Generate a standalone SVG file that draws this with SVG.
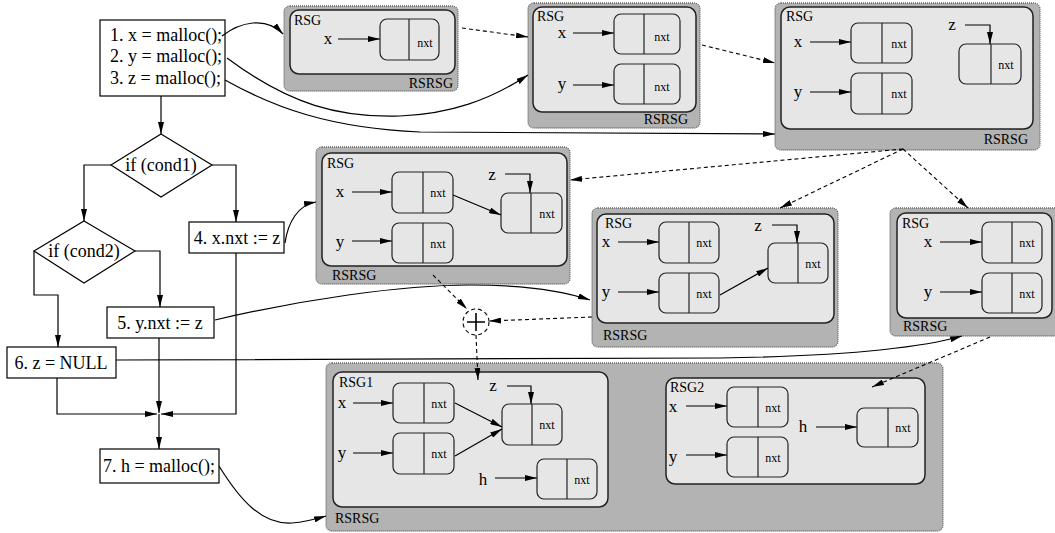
<svg xmlns="http://www.w3.org/2000/svg" width="1055" height="533" viewBox="0 0 1055 533">
<defs>
<marker id="ah" viewBox="0 0 12 6" refX="12" refY="3" markerWidth="12" markerHeight="6" markerUnits="userSpaceOnUse" orient="auto">
<path d="M0,0 L12,3 L0,6 Z" fill="#000"/>
</marker>
<style>
text{font-family:"Liberation Serif","Times New Roman",serif;fill:#000}
.ft{font-size:18px}
.lab{font-size:17px}
.rsg{font-size:14px}
.nxt{font-size:12px}
.box{fill:#fff;stroke:#000;stroke-width:1.2}
.outer{fill:#b3b3b3;stroke:#666;stroke-width:1.3;stroke-dasharray:1 1}
.inner{fill:#e6e6e6;stroke:#222;stroke-width:1.5}
.node{fill:#e6e6e6;stroke:#222;stroke-width:1.2}
.div{stroke:#222;stroke-width:1.2}
.ln{fill:none;stroke:#000;stroke-width:1.2}
.ar{fill:none;stroke:#000;stroke-width:1.2;marker-end:url(#ah)}
.da{fill:none;stroke:#000;stroke-width:1.1;stroke-dasharray:4 3;marker-end:url(#ah)}
</style>
</defs>

<!-- Flowchart nodes -->
<g id="s123">
<rect class="box" x="100" y="20" width="125" height="76"/>
<text class="ft" x="110" y="41">1. x = malloc();</text>
<text class="ft" x="110" y="62">2. y = malloc();</text>
<text class="ft" x="110" y="84">3. z = malloc();</text>
</g>
<g id="cond1">
<polygon class="box" points="161,134 212,165 161,197 111,165"/>
<text class="ft" x="161" y="171" text-anchor="middle">if (cond1)</text>
</g>
<g id="cond2">
<polygon class="box" points="84,221 135,251 84,283 34,251"/>
<text class="ft" x="84" y="257" text-anchor="middle">if (cond2)</text>
</g>
<g id="s4">
<rect class="box" x="189" y="222" width="95" height="31"/>
<text class="ft" x="237" y="244" text-anchor="middle">4. x.nxt := z</text>
</g>
<g id="s5">
<rect class="box" x="107" y="307" width="107" height="31"/>
<text class="ft" x="160" y="329" text-anchor="middle">5. y.nxt := z</text>
</g>
<g id="s6">
<rect class="box" x="7" y="347" width="109" height="31"/>
<text class="ft" x="61" y="369" text-anchor="middle">6. z = NULL</text>
</g>
<g id="s7">
<rect class="box" x="100" y="449" width="119" height="34"/>
<text class="ft" x="159" y="472" text-anchor="middle">7. h = malloc();</text>
</g>

<!-- RSRSG A -->
<g id="rsrsgA">
<rect class="outer" x="284" y="6" width="174" height="85" rx="6"/>
<rect class="inner" x="290" y="10" width="165" height="64" rx="9"/>
<text class="rsg" x="294" y="25">RSG</text>
<text class="rsg" x="453" y="88" text-anchor="end">RSRSG</text>
<text class="lab" x="328" y="44" text-anchor="middle">x</text>
<path class="ar" d="M338,39 H380"/>
<rect class="node" x="380" y="19" width="59" height="41" rx="7"/>
<line class="div" x1="409" y1="19" x2="409" y2="60"/>
<text class="nxt" x="425" y="47" text-anchor="middle">nxt</text>
</g>

<!-- RSRSG B -->
<g id="rsrsgB">
<rect class="outer" x="528" y="3" width="172" height="125" rx="6"/>
<rect class="inner" x="533" y="7" width="163" height="105" rx="9"/>
<text class="rsg" x="537" y="21">RSG</text>
<text class="rsg" x="688" y="124" text-anchor="end">RSRSG</text>
<text class="lab" x="562" y="38" text-anchor="middle">x</text>
<path class="ar" d="M573,33 H614"/>
<rect class="node" x="614" y="14" width="66" height="40" rx="7"/>
<line class="div" x1="644" y1="14" x2="644" y2="54"/>
<text class="nxt" x="662" y="41" text-anchor="middle">nxt</text>
<text class="lab" x="562" y="89" text-anchor="middle">y</text>
<path class="ar" d="M573,85 H614"/>
<rect class="node" x="614" y="64" width="66" height="40" rx="7"/>
<line class="div" x1="644" y1="64" x2="644" y2="104"/>
<text class="nxt" x="662" y="91" text-anchor="middle">nxt</text>
</g>

<!-- RSRSG C -->
<g id="rsrsgC">
<rect class="outer" x="775" y="3" width="265" height="147" rx="6"/>
<rect class="inner" x="781" y="7" width="252" height="122" rx="9"/>
<text class="rsg" x="786" y="21">RSG</text>
<text class="rsg" x="1028" y="144" text-anchor="end">RSRSG</text>
<text class="lab" x="798" y="47" text-anchor="middle">x</text>
<path class="ar" d="M810,42 H851"/>
<rect class="node" x="851" y="23" width="61" height="40" rx="7"/>
<line class="div" x1="882" y1="23" x2="882" y2="63"/>
<text class="nxt" x="899" y="48" text-anchor="middle">nxt</text>
<text class="lab" x="798" y="97" text-anchor="middle">y</text>
<path class="ar" d="M810,92 H851"/>
<rect class="node" x="851" y="73" width="61" height="41" rx="7"/>
<line class="div" x1="882" y1="73" x2="882" y2="114"/>
<text class="nxt" x="899" y="98" text-anchor="middle">nxt</text>
<text class="lab" x="952" y="30" text-anchor="middle">z</text>
<rect class="node" x="959" y="44" width="62" height="40" rx="7"/>
<line class="div" x1="991" y1="44" x2="991" y2="84"/>
<text class="nxt" x="1006" y="69" text-anchor="middle">nxt</text>
<path class="ar" d="M965,25 H990 V44"/>
</g>

<!-- RSRSG D -->
<g id="rsrsgD">
<rect class="outer" x="316" y="147" width="254" height="137" rx="6"/>
<rect class="inner" x="322" y="153" width="245" height="113" rx="9"/>
<text class="rsg" x="327" y="168">RSG</text>
<text class="rsg" x="332" y="280">RSRSG</text>
<text class="lab" x="340" y="197" text-anchor="middle">x</text>
<path class="ar" d="M352,192 H392"/>
<rect class="node" x="392" y="172" width="61" height="41" rx="7"/>
<line class="div" x1="423" y1="172" x2="423" y2="213"/>
<text class="nxt" x="438" y="197" text-anchor="middle">nxt</text>
<text class="lab" x="340" y="247" text-anchor="middle">y</text>
<path class="ar" d="M352,241 H392"/>
<rect class="node" x="392" y="223" width="61" height="40" rx="7"/>
<line class="div" x1="423" y1="223" x2="423" y2="263"/>
<text class="nxt" x="438" y="248" text-anchor="middle">nxt</text>
<text class="lab" x="492" y="180" text-anchor="middle">z</text>
<rect class="node" x="501" y="193" width="61" height="40" rx="7"/>
<line class="div" x1="531" y1="193" x2="531" y2="233"/>
<text class="nxt" x="547" y="218" text-anchor="middle">nxt</text>
<path class="ar" d="M505,174 H530 V193"/>
<path class="ar" d="M453,195 L501,215"/>
</g>

<!-- RSRSG E -->
<g id="rsrsgE">
<rect class="outer" x="592" y="208" width="246" height="139" rx="6"/>
<rect class="inner" x="597" y="214" width="237" height="109" rx="9"/>
<text class="rsg" x="605" y="228">RSG</text>
<text class="rsg" x="603" y="340">RSRSG</text>
<text class="lab" x="606" y="247" text-anchor="middle">x</text>
<path class="ar" d="M618,242 H659"/>
<rect class="node" x="659" y="222" width="60" height="41" rx="7"/>
<line class="div" x1="689" y1="222" x2="689" y2="263"/>
<text class="nxt" x="704" y="247" text-anchor="middle">nxt</text>
<text class="lab" x="606" y="297" text-anchor="middle">y</text>
<path class="ar" d="M618,292 H659"/>
<rect class="node" x="659" y="273" width="60" height="40" rx="7"/>
<line class="div" x1="689" y1="273" x2="689" y2="313"/>
<text class="nxt" x="704" y="298" text-anchor="middle">nxt</text>
<text class="lab" x="758" y="231" text-anchor="middle">z</text>
<rect class="node" x="768" y="243" width="60" height="40" rx="7"/>
<line class="div" x1="798" y1="243" x2="798" y2="283"/>
<text class="nxt" x="813" y="268" text-anchor="middle">nxt</text>
<path class="ar" d="M772,225 H797 V243"/>
<path class="ar" d="M720,295 L768,268"/>
</g>

<!-- RSRSG F -->
<g id="rsrsgF">
<rect class="outer" x="890" y="208" width="172" height="128" rx="6"/>
<rect class="inner" x="897" y="213" width="155" height="105" rx="9"/>
<text class="rsg" x="902" y="228">RSG</text>
<text class="rsg" x="903" y="331">RSRSG</text>
<text class="lab" x="928" y="247" text-anchor="middle">x</text>
<path class="ar" d="M940,242 H982"/>
<rect class="node" x="982" y="222" width="60" height="41" rx="7"/>
<line class="div" x1="1012" y1="222" x2="1012" y2="263"/>
<text class="nxt" x="1027" y="247" text-anchor="middle">nxt</text>
<text class="lab" x="928" y="297" text-anchor="middle">y</text>
<path class="ar" d="M940,292 H982"/>
<rect class="node" x="982" y="273" width="60" height="40" rx="7"/>
<line class="div" x1="1012" y1="273" x2="1012" y2="313"/>
<text class="nxt" x="1027" y="298" text-anchor="middle">nxt</text>
</g>

<!-- RSRSG G -->
<g id="rsrsgG">
<rect class="outer" x="326" y="363" width="617" height="168" rx="6"/>
<rect class="inner" x="333" y="372" width="275" height="135" rx="9"/>
<text class="rsg" x="339" y="387">RSG1</text>
<text class="rsg" x="335" y="523">RSRSG</text>
<text class="lab" x="342" y="408" text-anchor="middle">x</text>
<path class="ar" d="M353,403 H393"/>
<rect class="node" x="393" y="383" width="61" height="40" rx="7"/>
<line class="div" x1="424" y1="383" x2="424" y2="423"/>
<text class="nxt" x="439" y="408" text-anchor="middle">nxt</text>
<text class="lab" x="342" y="458" text-anchor="middle">y</text>
<path class="ar" d="M353,453 H393"/>
<rect class="node" x="393" y="433" width="61" height="41" rx="7"/>
<line class="div" x1="424" y1="433" x2="424" y2="474"/>
<text class="nxt" x="439" y="458" text-anchor="middle">nxt</text>
<text class="lab" x="493" y="391" text-anchor="middle">z</text>
<rect class="node" x="502" y="404" width="60" height="41" rx="7"/>
<line class="div" x1="532" y1="404" x2="532" y2="445"/>
<text class="nxt" x="547" y="429" text-anchor="middle">nxt</text>
<path class="ar" d="M507,386 H531 V404"/>
<path class="ar" d="M455,403 L502,427"/>
<path class="ar" d="M455,456 L502,429"/>
<text class="lab" x="483" y="485" text-anchor="middle">h</text>
<path class="ar" d="M495,478 H537"/>
<rect class="node" x="537" y="459" width="60" height="40" rx="7"/>
<line class="div" x1="567" y1="459" x2="567" y2="499"/>
<text class="nxt" x="582" y="484" text-anchor="middle">nxt</text>

<rect class="inner" x="666" y="378" width="259" height="106" rx="9"/>
<text class="rsg" x="670" y="392">RSG2</text>
<text class="lab" x="673" y="412" text-anchor="middle">x</text>
<path class="ar" d="M686,406 H727"/>
<rect class="node" x="727" y="387" width="61" height="40" rx="7"/>
<line class="div" x1="758" y1="387" x2="758" y2="427"/>
<text class="nxt" x="773" y="412" text-anchor="middle">nxt</text>
<text class="lab" x="673" y="462" text-anchor="middle">y</text>
<path class="ar" d="M686,455 H727"/>
<rect class="node" x="727" y="437" width="61" height="40" rx="7"/>
<line class="div" x1="758" y1="437" x2="758" y2="477"/>
<text class="nxt" x="773" y="462" text-anchor="middle">nxt</text>
<text class="lab" x="803" y="432" text-anchor="middle">h</text>
<path class="ar" d="M816,427 H857"/>
<rect class="node" x="857" y="408" width="61" height="39" rx="7"/>
<line class="div" x1="888" y1="408" x2="888" y2="447"/>
<text class="nxt" x="903" y="432" text-anchor="middle">nxt</text>
</g>

<!-- Join (+) -->
<g id="join">
<circle cx="476" cy="322" r="13" fill="none" stroke="#000" stroke-width="1.1" stroke-dasharray="4 3"/>
<path d="M467,322 H485 M476,313 V331" stroke="#000" stroke-width="1.6" fill="none"/>
</g>

<!-- Connectors -->
<g id="connectors">
<path class="ar" d="M161,96 V134"/>
<path class="ar" d="M111,165 H84 V221"/>
<path class="ar" d="M212,165 H236 V222"/>
<path class="ar" d="M135,251 H160 V307"/>
<path class="ar" d="M34,251 V295 H58 V347"/>
<path class="ar" d="M159,338 V413"/>
<path class="ar" d="M57,378 V414 H157"/>
<path class="ar" d="M236,253 V414 H161"/>
<path class="ar" d="M159,414 V449"/>

<path class="ar" d="M222,36 C240,22 266,16 283,34"/>
<path class="ar" d="M227,58 C290,105 340,118 400,116 C450,114 490,100 528,75"/>
<path class="ar" d="M225,80 C275,108 330,128 420,132 L775,134"/>
<path class="ar" d="M285,243 C288,222 298,205 316,202"/>
<path class="ar" d="M215,320 C300,300 400,285 470,285 C520,285 560,290 590,300"/>
<path class="ar" d="M116,360 L720,358 C850,356 920,348 962,336"/>
<path class="ar" d="M219,466 C240,500 262,525 292,523 C306,522 316,519 326,516"/>

<path class="da" d="M462,28 L528,37"/>
<path class="da" d="M702,45 L775,63"/>
<path class="da" d="M903,149 L570,180"/>
<path class="da" d="M903,149 L780,208"/>
<path class="da" d="M903,149 L968,208"/>
<path class="da" d="M433,275 L467,309"/>
<path class="da" d="M592,317 L489,321"/>
<path class="da" d="M476,335 L478,380"/>
<path class="da" d="M990,337 L872,387"/>
</g>
</svg>
